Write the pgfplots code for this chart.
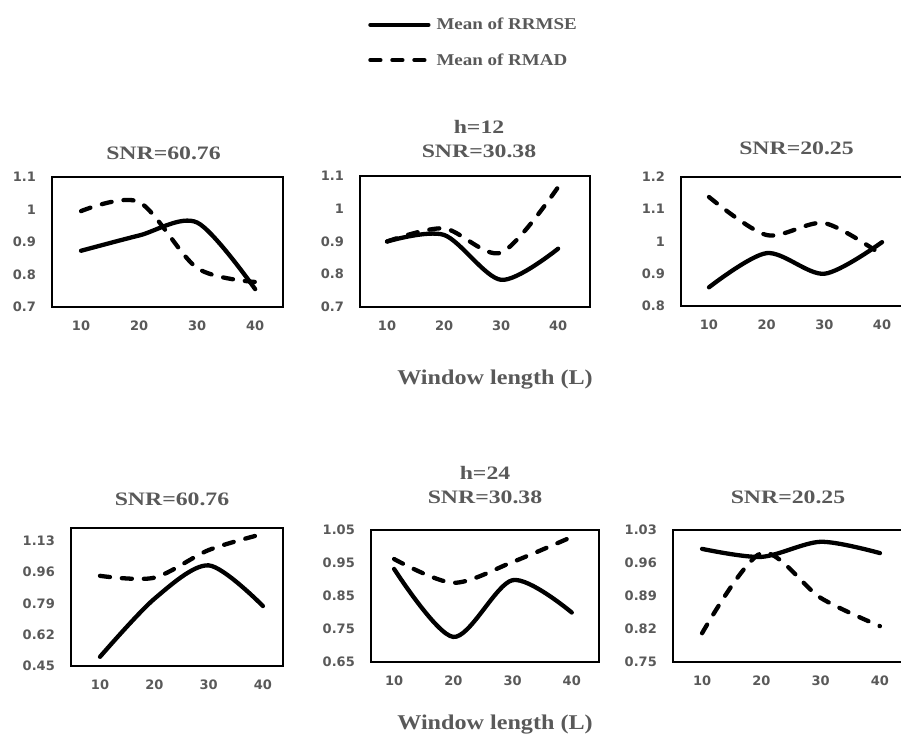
\documentclass[border=0pt]{standalone}
\usepackage{pgfplots}
\pgfplotsset{compat=1.18}
\usepackage{fontspec}
\setmainfont{Liberation Serif}[FakeStretch=1.15]
\newfontfamily\titlefont{Liberation Serif}[FakeStretch=1.25]
\newfontfamily\tickfont{DejaVu Sans}
\definecolor{txt}{HTML}{595959}
\tikzset{wl/.style={font=\bfseries\fontsize{21}{22}\selectfont, text=txt, inner sep=0pt, anchor=base}}
\pgfplotsset{
  panel/.style={
    scale only axis,
    axis line style={line width=1.8pt, black},
    major tick length=0pt,
    xtick={10,20,30,40},
    /pgf/number format/assume math mode=true,
    ticklabel style={font=\tickfont\bfseries\fontsize{13}{13}\selectfont, text=txt, inner sep=0pt},
    yticklabel style={anchor=east, xshift=-16pt},
    xticklabel style={anchor=north, yshift=-14pt},
    title style={at={(0.5,1)}, anchor=south, inner sep=0pt, align=center,
      font=\titlefont\bfseries\fontsize{19}{24}\selectfont, text=txt},
    legend image code/.code={\draw[##1] (0pt,0pt) -- (58pt,0pt);},
  },
  solidline/.style={black, line width=4.3pt, smooth, line cap=round},
  dashline/.style={black, line width=4.3pt, smooth, line cap=round, dash pattern=on 10pt off 12pt},
}
\begin{document}
\begin{tikzpicture}
\path[use as bounding box] (0,0) rectangle (901pt,-738pt);
% ---------- top row, h=12 ----------
\begin{axis}[panel, at={(52pt,-307pt)}, anchor=south west, width=231pt, height=130pt,
  xmin=5, xmax=44.8, ymin=0.7, ymax=1.1, ytick={0.7,0.8,0.9,1,1.1},
  title={SNR=60.76}, title style={yshift=11pt, xshift=-4pt}]
\addplot[solidline] coordinates {(10,0.873) (20,0.92) (30,0.96) (40,0.755)};
\addplot[dashline] coordinates {(10,0.995) (20,1.023) (30,0.82) (40,0.777)};
\end{axis}
\begin{axis}[panel, at={(360pt,-307pt)}, anchor=south west, width=230pt, height=131pt,
  xmin=5.26, xmax=45.6, ymin=0.7, ymax=1.1, ytick={0.7,0.8,0.9,1,1.1},
  title={h=12\\SNR=30.38}, title style={yshift=12pt, xshift=4pt},
  xlabel={Window length (L)}, xlabel style={wl, at={(axis description cs:0.587,0)}, yshift=-77pt},
  legend style={at={(axis description cs:0.035,2.22)}, anchor=north west, draw=none, fill=none,
    inner sep=0pt, row sep=18pt, column sep=4pt, 
    font=\bfseries\fontsize{16.5}{16.5}\selectfont, text=txt}, legend cell align=left]
\addplot[solidline] coordinates {(10,0.90) (20,0.92) (30,0.783) (40,0.878)};
\addlegendentry{Mean of RRMSE}
\addplot[dashline] coordinates {(10,0.90) (20,0.94) (30,0.866) (40,1.066)};
\addlegendentry{Mean of RMAD}
\end{axis}
\begin{axis}[panel, at={(681pt,-306pt)}, anchor=south west, width=229pt, height=129pt,
  xmin=5.15, xmax=44.85, ymin=0.8, ymax=1.2, ytick={0.8,0.9,1,1.1,1.2},
  title={SNR=20.25}, title style={yshift=16pt, xshift=1pt}]
\addplot[solidline] coordinates {(10,0.858) (20,0.964) (30,0.90) (40,0.998)};
\addplot[dashline] coordinates {(10,1.138) (20,1.02) (30,1.057) (40,0.958)};
\end{axis}
% ---------- bottom row, h=24 ----------
\begin{axis}[panel, at={(71pt,-666pt)}, anchor=south west, width=212pt, height=138pt,
  xmin=4.66, xmax=43.7, ymin=0.45, ymax=1.2, ytick={0.45,0.62,0.79,0.96,1.13},
  title={SNR=60.76}, title style={yshift=16pt, xshift=-5pt}]
\addplot[solidline] coordinates {(10,0.50) (20,0.815) (30,0.997) (40,0.776)};
\addplot[dashline] coordinates {(10,0.94) (20,0.93) (30,1.08) (40,1.168)};
\end{axis}
\begin{axis}[panel, at={(371pt,-662pt)}, anchor=south west, width=228pt, height=132pt,
  xmin=6.1, xmax=44.6, ymin=0.65, ymax=1.05, ytick={0.65,0.75,0.85,0.95,1.05},
  title={h=24\\SNR=30.38}, title style={yshift=20pt},
  xlabel={Window length (L)}, xlabel style={wl, at={(axis description cs:0.544,0)}, yshift=-67pt}]
\addplot[solidline] coordinates {(10,0.932) (20,0.726) (30,0.898) (40,0.80)};
\addplot[dashline] coordinates {(10,0.962) (20,0.89) (30,0.953) (40,1.029)};
\end{axis}
\begin{axis}[panel, at={(673pt,-662pt)}, anchor=south west, width=236pt, height=132pt,
  xmin=5.1, xmax=44.9, ymin=0.75, ymax=1.03, ytick={0.75,0.82,0.89,0.96,1.03},
  title={SNR=20.25}, title style={yshift=20pt, xshift=-3pt}]
\addplot[solidline] coordinates {(10,0.99) (20,0.973) (30,1.005) (40,0.981)};
\addplot[dashline] coordinates {(10,0.811) (20,0.981) (30,0.886) (40,0.826)};
\end{axis}
\end{tikzpicture}
\end{document}
